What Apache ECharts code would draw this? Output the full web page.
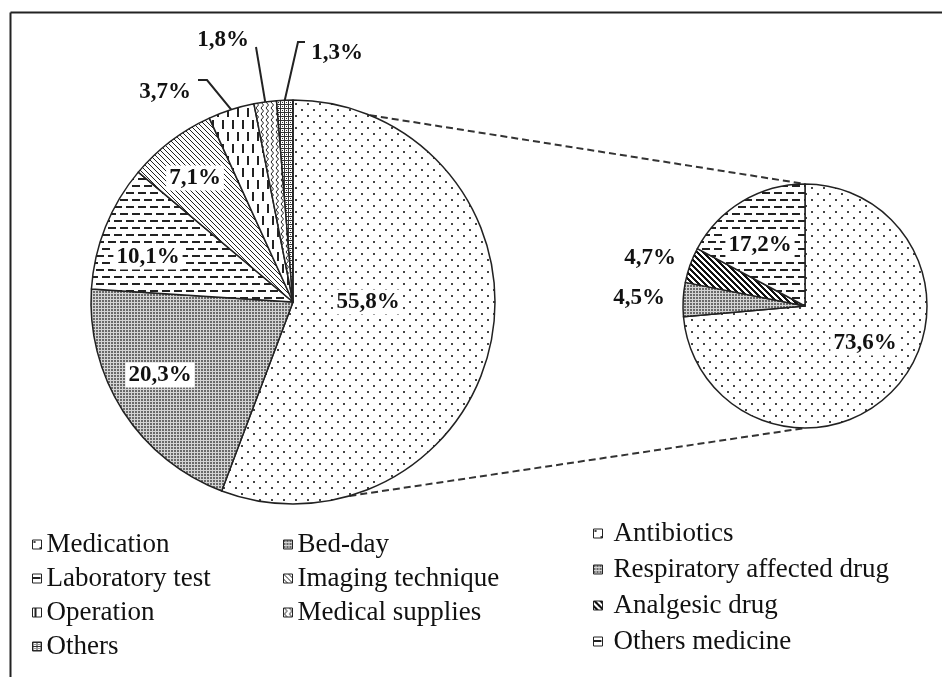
<!DOCTYPE html>
<html>
<head>
<meta charset="utf-8">
<script src="https://cdn.jsdelivr.net/npm/echarts@6/dist/echarts.min.js"></script>
<style>
html,body{margin:0;padding:0;background:#fff;}
#chart{width:942px;height:677px;}
</style>
</head>
<body>
<div id="chart"></div>
<script>
// ---- Data ----
const mainCategories = ['Medication', 'Bed-day', 'Laboratory test', 'Imaging technique', 'Operation', 'Medical supplies', 'Others'];
const mainValues = [55.8, 20.3, 10.1, 7.1, 3.7, 1.8, 1.3];
const subCategories = ['Antibiotics', 'Respiratory affected drug', 'Analgesic drug', 'Others medicine'];
const subValues = [73.6, 4.5, 4.7, 17.2];

// ---- Layout (not data) ----
const MAIN = { cx: 293, cy: 302, r: 202 };
const SUB = { cx: 805, cy: 306, r: 122 };
// label centre offsets from pie centre
const mainLabelOff = [[75, 0], [-133, 73], [-145, -45], [-98, -124], [-128, -210], [-70, -262], [44, -249]];
const subLabelOff = [[60, 37], [-166, -8], [-155, -48], [-45, -61]];
// leader lines (elbow, end) as offsets from pie centre, for outside labels
const mainLeader = { 4: [[-86, -222], [-95, -222]], 5: [[-37, -255], [-37, -255]], 6: [[5, -260], [12, -260]] };
const connectorAngles = [22.4, 163.8]; // degrees clockwise from top on main pie

const FONT = 'Liberation Serif';

function pat(w, h, bg, draw) {
  const c = document.createElement('canvas');
  c.width = w; c.height = h;
  const ctx = c.getContext('2d');
  ctx.fillStyle = bg; ctx.fillRect(0, 0, w, h);
  ctx.fillStyle = '#222'; ctx.strokeStyle = '#222';
  draw(ctx);
  return { image: c, repeat: 'repeat' };
}
const P = {
  dots: pat(12, 12, '#fff', c => { c.fillStyle = '#444'; c.fillRect(1, 1, 2, 2); c.fillRect(7, 7, 2, 2); }),
  grey: pat(3, 3, '#d4d4d4', c => { c.fillStyle = '#6a6a6a'; c.fillRect(0, 0, 2, 2); }),
  hdash: pat(12, 14, '#fff', c => { c.fillRect(0, 3, 8, 2); c.fillRect(6, 10, 6, 2); c.fillRect(0, 10, 2, 2); }),
  diagThin: pat(5, 5, '#fff', c => { for (let i = 0; i < 5; i++) c.fillRect(i, i, 1, 1); }),
  diagThick: pat(6, 6, '#fff', c => { c.fillStyle = '#111'; for (let i = 0; i < 6; i++) { c.fillRect(i, i, 1, 1); c.fillRect((i + 1) % 6, i, 1, 1); c.fillRect((i + 2) % 6, i, 1, 1); } }),
  vdash: pat(10, 24, '#fff', c => { c.fillRect(2, 0, 2, 9); c.fillRect(7, 12, 2, 9); }),
  wave: pat(5, 6, '#fff', c => { c.lineWidth = 1; c.beginPath(); c.moveTo(1, 0); c.lineTo(3.5, 3); c.lineTo(1, 6); c.stroke(); }),
  rings: pat(4, 4, '#fff', c => { c.fillStyle = '#333'; c.fillRect(0, 0, 4, 1); c.fillRect(0, 0, 1, 4); c.fillRect(2, 2, 1, 1); })
};
const mainPatterns = [P.dots, P.grey, P.hdash, P.diagThin, P.vdash, P.wave, P.rings];
const subPatterns = [P.dots, P.grey, P.diagThick, P.hdash];

function fmt(v) { return v.toFixed(1).replace('.', ',') + '%'; }

const labelBase = { fontFamily: FONT, fontWeight: 'bold', fontSize: 23, color: '#111' };

function edgePoint(c, values, idx) {
  const total = values.reduce((a, b) => a + b, 0);
  let s = 0; for (let i = 0; i < idx; i++) s += values[i];
  const mid = (s + values[idx] / 2) / total * 2 * Math.PI;
  return [c.cx + c.r * Math.sin(mid), c.cy - c.r * Math.cos(mid)];
}

const mainData = mainCategories.map((n, i) => {
  const outside = mainLeader[i] !== undefined;
  return {
    name: n, value: mainValues[i],
    itemStyle: { color: mainPatterns[i] },
    label: outside ? { backgroundColor: 'transparent' } : { backgroundColor: '#fff' },
    labelLine: { show: outside }
  };
});
const subData = subCategories.map((n, i) => {
  const outside = (i === 1 || i === 2);
  return {
    name: n, value: subValues[i],
    itemStyle: { color: subPatterns[i] },
    label: outside ? { backgroundColor: 'transparent' } : { backgroundColor: '#fff' },
    labelLine: { show: false }
  };
});

const chart = echarts.init(document.getElementById('chart'), null, { renderer: 'canvas' });

function connector(angleDeg, target) {
  const a = angleDeg * Math.PI / 180;
  return {
    type: 'line', z: 0, silent: true,
    shape: { x1: MAIN.cx + MAIN.r * Math.sin(a), y1: MAIN.cy - MAIN.r * Math.cos(a), x2: target[0], y2: target[1] },
    style: { stroke: '#333', lineWidth: 2, lineDash: [7, 4] }
  };
}

const legendCommon = {
  orient: 'vertical', icon: 'rect', itemWidth: 9, itemHeight: 9, selectedMode: false, padding: 0,
  itemStyle: { borderColor: '#222', borderWidth: 1 },
  textStyle: { fontFamily: FONT, fontSize: 27, lineHeight: 26, color: '#111' }
};

chart.setOption({
  backgroundColor: '#fff',
  animation: false,
  graphic: [
    { type: 'line', z: 0, silent: true, shape: { x1: 10.5, y1: 12.5, x2: 942, y2: 12.5 }, style: { stroke: '#222', lineWidth: 2 } },
    { type: 'line', z: 0, silent: true, shape: { x1: 10.5, y1: 12.5, x2: 10.5, y2: 677 }, style: { stroke: '#222', lineWidth: 2 } },
    connector(connectorAngles[0], [SUB.cx, SUB.cy - SUB.r]),
    connector(connectorAngles[1], [SUB.cx, SUB.cy + SUB.r])
  ],
  legend: [
    Object.assign({}, legendCommon, { left: 32, top: 531, itemGap: 7, data: ['Medication', 'Laboratory test', 'Operation', 'Others'] }),
    Object.assign({}, legendCommon, { left: 283, top: 531, itemGap: 7, data: ['Bed-day', 'Imaging technique', 'Medical supplies'] }),
    Object.assign({}, legendCommon, { left: 593, top: 520, itemGap: 9, data: subCategories,
      textStyle: Object.assign({}, legendCommon.textStyle, { padding: [0, 0, 0, 6] }) })
  ],
  series: [
    {
      type: 'pie', name: 'main', center: [MAIN.cx, MAIN.cy], radius: MAIN.r,
      startAngle: 90, clockwise: true, avoidLabelOverlap: false,
      emphasis: { disabled: true },
      itemStyle: { borderColor: '#222', borderWidth: 1.5 },
      label: Object.assign({ show: true, position: 'outside', padding: [1, 3], formatter: p => fmt(p.value) }, labelBase),
      labelLine: { lineStyle: { color: '#222', width: 2 } },
      labelLayout: function (params) {
        const i = params.dataIndex;
        const off = mainLabelOff[i];
        const res = { x: MAIN.cx + off[0], y: MAIN.cy + off[1], align: 'center', verticalAlign: 'middle' };
        if (mainLeader[i]) {
          const e = edgePoint(MAIN, mainValues, i);
          const L = mainLeader[i];
          res.labelLinePoints = [e, [MAIN.cx + L[0][0], MAIN.cy + L[0][1]], [MAIN.cx + L[1][0], MAIN.cy + L[1][1]]];
        }
        return res;
      },
      data: mainData
    },
    {
      type: 'pie', name: 'sub', center: [SUB.cx, SUB.cy], radius: SUB.r,
      startAngle: 90, clockwise: true, avoidLabelOverlap: false,
      emphasis: { disabled: true },
      itemStyle: { borderColor: '#222', borderWidth: 1.5 },
      label: Object.assign({ show: true, position: 'outside', padding: [1, 3], formatter: p => fmt(p.value) }, labelBase),
      labelLine: { show: false },
      labelLayout: function (params) {
        const off = subLabelOff[params.dataIndex];
        return { x: SUB.cx + off[0], y: SUB.cy + off[1], align: 'center', verticalAlign: 'middle' };
      },
      data: subData
    }
  ]
});
</script>
</body>
</html>
